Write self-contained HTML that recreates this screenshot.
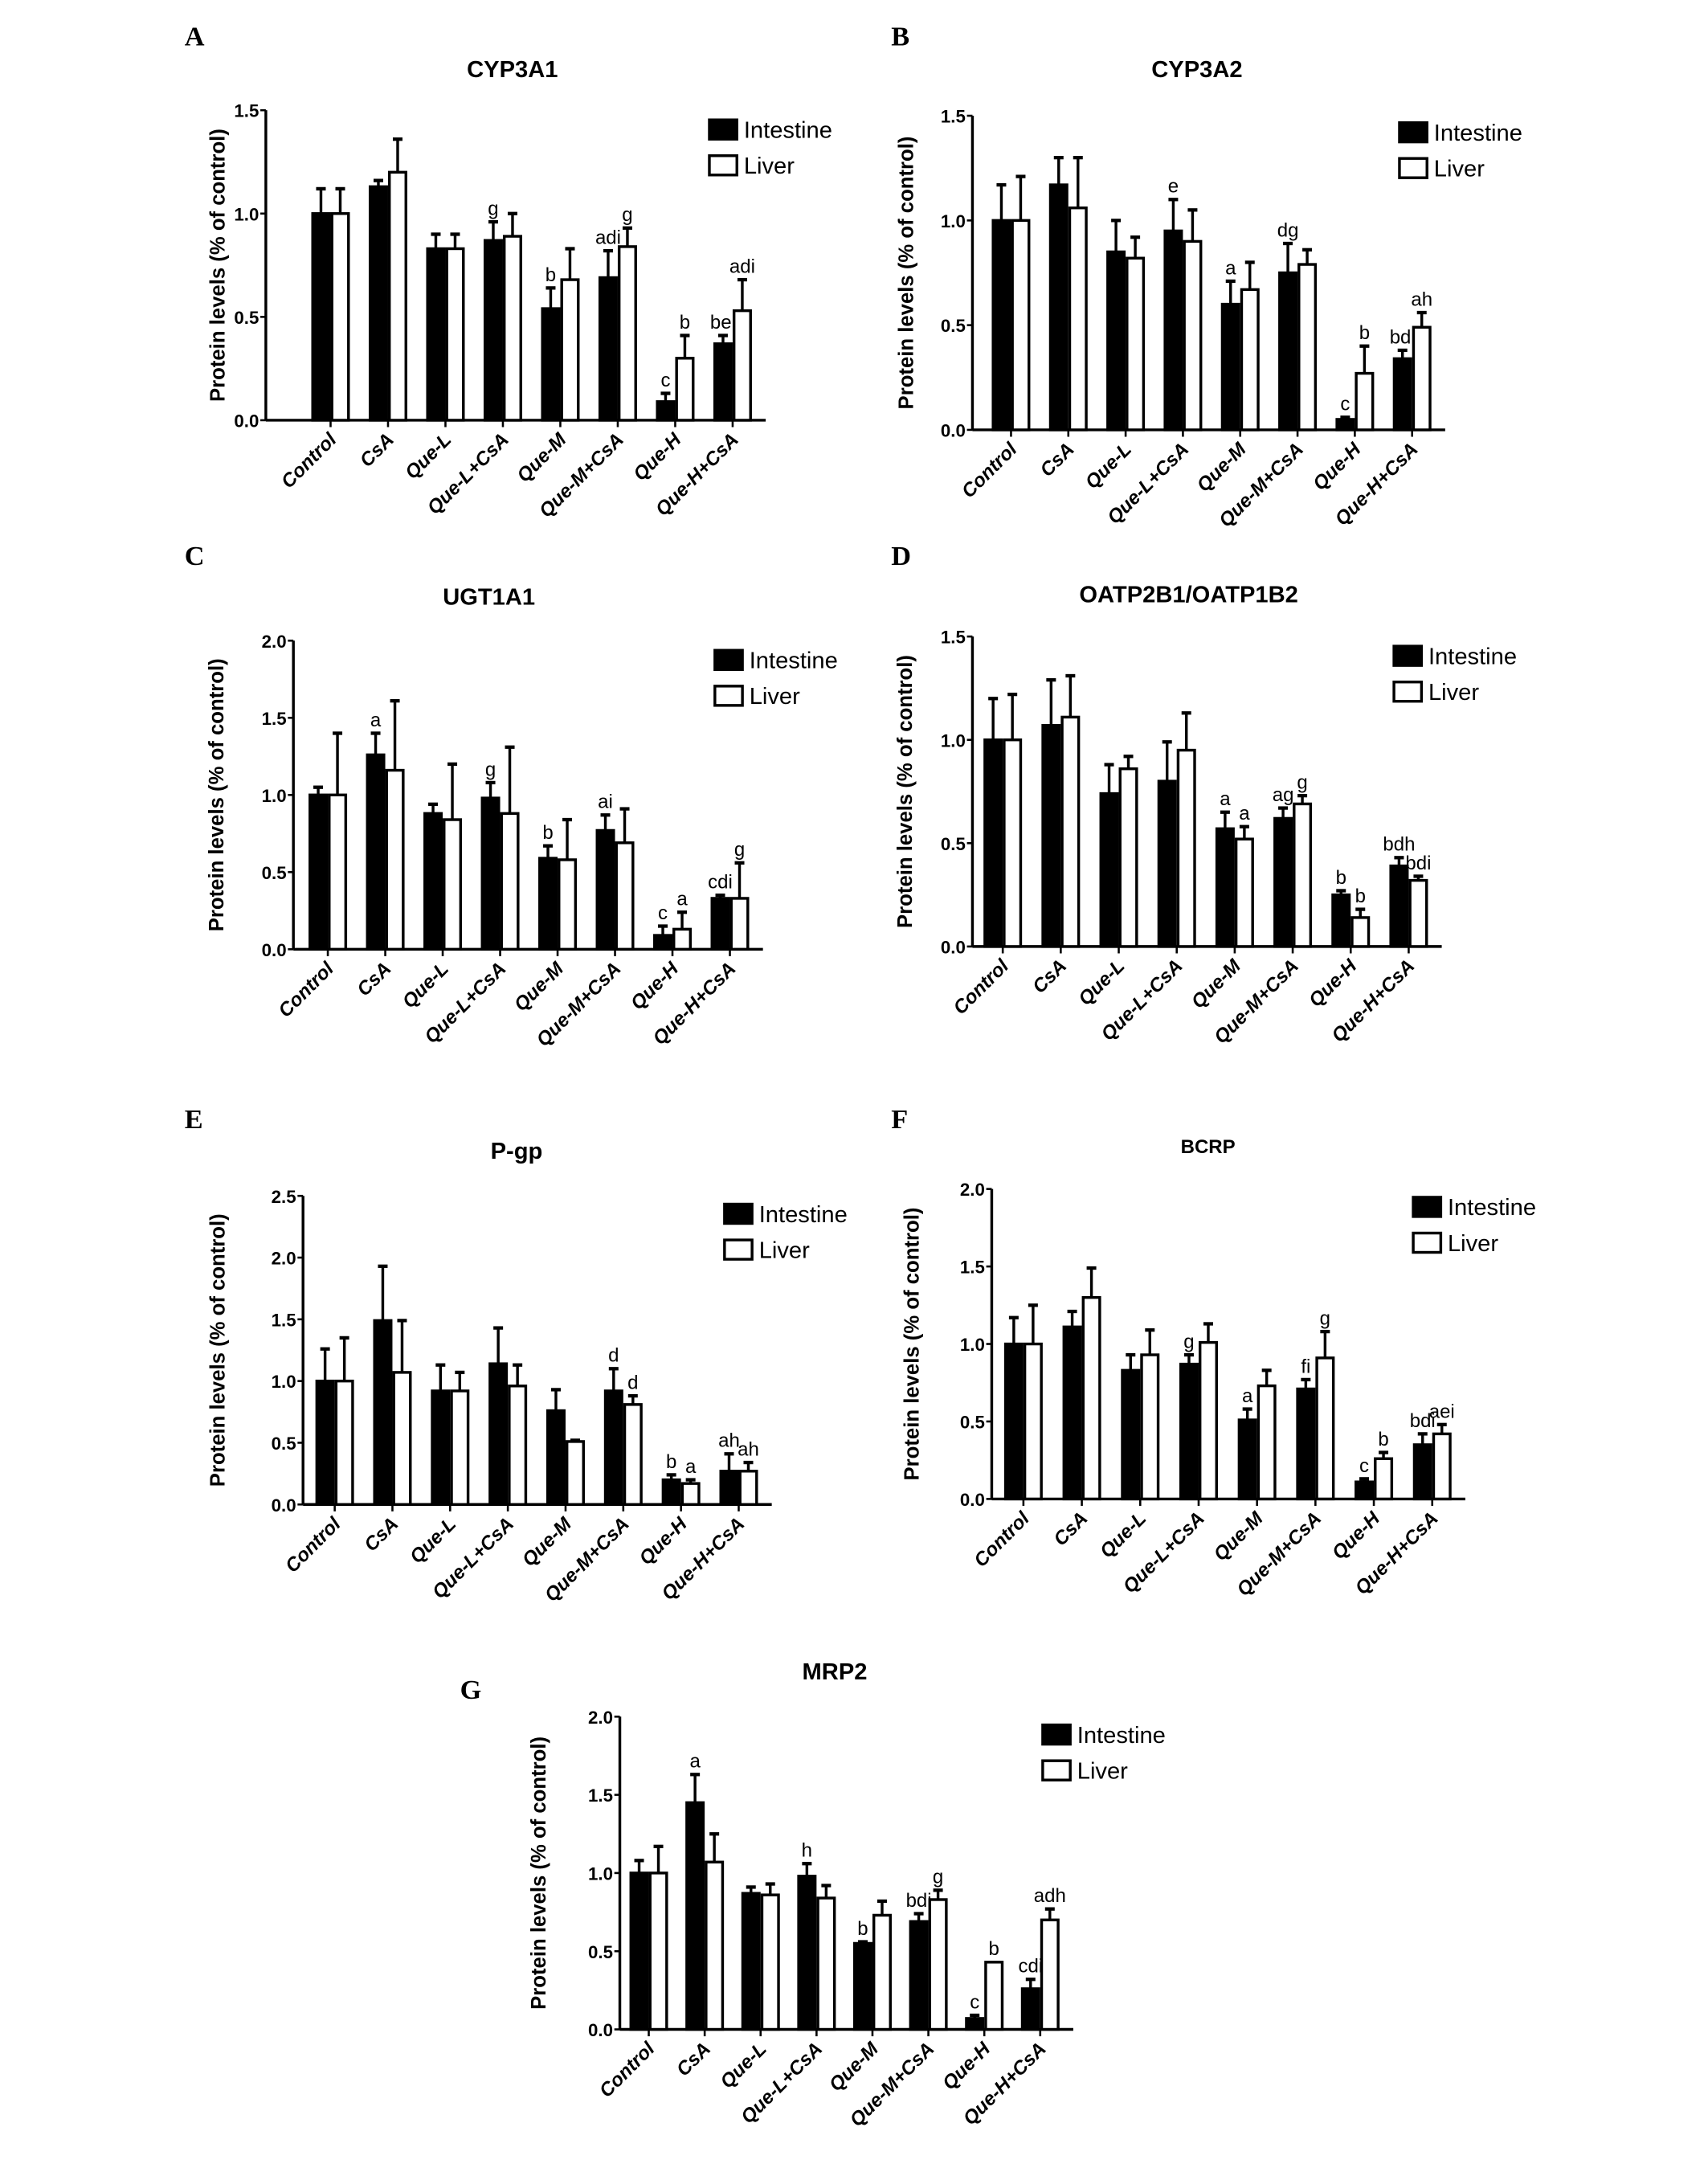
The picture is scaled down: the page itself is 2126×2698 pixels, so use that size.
<!DOCTYPE html>
<html><head><meta charset="utf-8"><style>
html,body{margin:0;padding:0;background:#fff;}
svg{display:block;font-family:"Liberation Sans",Arial,sans-serif;}
</style></head><body>
<svg id="fig" width="2126" height="2698" viewBox="0 0 1240 1573.6" xmlns="http://www.w3.org/2000/svg"></svg>
<script>
const categories=["Control","CsA","Que-L","Que-L+CsA","Que-M","Que-M+CsA","Que-H","Que-H+CsA"];
const yTicks15=[0,0.5,1.0,1.5];
const yTicks20=[0,0.5,1.0,1.5,2.0];
const yTicks25=[0,0.5,1.0,1.5,2.0,2.5];

const aInt=[1.0,1.13,0.83,0.87,0.54,0.69,0.09,0.37];
const aIntErr=[0.12,0.03,0.07,0.09,0.10,0.13,0.04,0.04];
const aLiv=[1.0,1.2,0.83,0.89,0.68,0.84,0.30,0.53];
const aLivErr=[0.12,0.16,0.07,0.11,0.15,0.09,0.11,0.15];
const aIntLab=["","","","g","b","adi","c","bei"];
const aLivLab=["","","","","","g","b","adi"];

const bInt=[1.0,1.17,0.85,0.95,0.60,0.75,0.05,0.34];
const bIntErr=[0.17,0.13,0.15,0.15,0.11,0.14,0.01,0.04];
const bLiv=[1.0,1.06,0.82,0.90,0.67,0.79,0.27,0.49];
const bLivErr=[0.21,0.24,0.10,0.15,0.13,0.07,0.13,0.07];
const bIntLab=["","","","e","a","dg","c","bdi"];
const bLivLab=["","","","","","","b","ah"];

const cInt=[1.0,1.26,0.88,0.98,0.59,0.77,0.09,0.33];
const cIntErr=[0.05,0.14,0.06,0.10,0.08,0.10,0.06,0.02];
const cLiv=[1.0,1.16,0.84,0.88,0.58,0.69,0.13,0.33];
const cLivErr=[0.40,0.45,0.36,0.43,0.26,0.22,0.11,0.23];
const cIntLab=["","a","","g","b","ai","c","cdi"];
const cLivLab=["","","","","","","a","g"];

const dInt=[1.0,1.07,0.74,0.80,0.57,0.62,0.25,0.39];
const dIntErr=[0.20,0.22,0.14,0.19,0.08,0.05,0.02,0.04];
const dLiv=[1.0,1.11,0.86,0.95,0.52,0.69,0.14,0.32];
const dLivErr=[0.22,0.20,0.06,0.18,0.06,0.04,0.04,0.02];
const dIntLab=["","","","","a","ag","b","bdh"];
const dLivLab=["","","","","a","g","b","bdi"];

const eInt=[1.0,1.49,0.92,1.14,0.76,0.92,0.20,0.27];
const eIntErr=[0.26,0.44,0.21,0.29,0.17,0.18,0.04,0.14];
const eLiv=[1.0,1.07,0.92,0.96,0.51,0.81,0.17,0.27];
const eLivErr=[0.35,0.42,0.15,0.17,0.01,0.07,0.03,0.07];
const eIntLab=["","","","","","d","b","ah"];
const eLivLab=["","","","","","d","a","ah"];

const fInt=[1.0,1.11,0.83,0.87,0.51,0.71,0.11,0.35];
const fIntErr=[0.17,0.10,0.10,0.06,0.07,0.06,0.02,0.07];
const fLiv=[1.0,1.30,0.93,1.01,0.73,0.91,0.26,0.42];
const fLivErr=[0.25,0.19,0.16,0.12,0.10,0.17,0.04,0.06];
const fIntLab=["","","","g","a","fi","c","bdi"];
const fLivLab=["","","","","","g","b","aei"];

const gInt=[1.0,1.45,0.87,0.98,0.55,0.69,0.07,0.26];
const gIntErr=[0.08,0.18,0.04,0.08,0.01,0.05,0.02,0.06];
const gLiv=[1.0,1.07,0.86,0.84,0.73,0.83,0.43,0.70];
const gLivErr=[0.17,0.18,0.07,0.08,0.09,0.06,0.0,0.07];
const gIntLab=["","a","","h","b","bdi","c","cdi"];
const gLivLab=["","","","","","g","b","adh"];

const NS="http://www.w3.org/2000/svg";
const svg=document.getElementById('fig');
function mk(tag,attrs,parent,text){const e=document.createElementNS(NS,tag);for(const k in attrs)e.setAttribute(k,attrs[k]);if(text!==undefined)e.textContent=text;(parent||svg).appendChild(e);return e;}

function panel(p){
  const g=mk('g',{});
  
  
  const ymax=p.ticks[p.ticks.length-1];
  const yS=v=>p.y0-(v/ymax)*(p.y0-p.yTop);
  const xC=i=>p.c0+i*p.step;
  const t1=mk('text',{x:p.letterX,y:p.letterY,'font-family':'Liberation Serif,serif','font-weight':'bold','font-size':20},g,p.id);
  
  
  const tt=mk('text',{x:p.titleX,y:p.titleY,'text-anchor':'middle','font-weight':'bold','font-size':p.titleSize||17},g,p.title);
  
  
  const yl=mk('text',{x:0,y:0,transform:`translate(${p.ylabX},${(p.y0+p.yTop)/2}) rotate(-90)`,'text-anchor':'middle','font-weight':'bold','font-size':15},g,'Protein levels (% of control)');
  
  
  const ya=mk('line',{x1:p.axisX,y1:p.yTop,x2:p.axisX,y2:p.y0,stroke:'#000','stroke-width':2},g);
  
  
  const xEnd=xC(7)+24;
  const xa=mk('line',{x1:p.axisX,y1:p.y0,x2:xEnd,y2:p.y0,stroke:'#000','stroke-width':2},g);
  
  
  p.ticks.forEach(v=>{
    const y=yS(v);
    mk('line',{x1:p.axisX-4,y1:y,x2:p.axisX,y2:y,stroke:'#000','stroke-width':1.5},g);
    const tl=mk('text',{x:p.axisX-5,y:y+5,'text-anchor':'end','font-weight':'bold','font-size':13},g,v.toFixed(1));
    
    
  });
  categories.forEach((c,i)=>{
    const x=xC(i);
    mk('line',{x1:x,y1:p.y0,x2:x,y2:p.y0+5,stroke:'#000','stroke-width':1.5},g);
    const cl=mk('text',{x:0,y:0,transform:`translate(${x+5},${p.y0+15}) rotate(-45)`,'text-anchor':'end','font-weight':'bold','font-style':'italic','font-size':14},g,c);
    
    
    const series=[[p.int,p.intErr,p.intLab,x-14,'#000','intestine'],[p.liv,p.livErr,p.livLab,x,'#fff','liver']];
    series.forEach(([vals,errs,labs,bx,fill,nm])=>{
      const v=vals[i],top=yS(v),ey=yS(v+errs[i]),cx=bx+7;
      if(errs[i]>0){
        mk('line',{x1:cx,y1:top,x2:cx,y2:ey,stroke:'#000','stroke-width':2},g);
        mk('line',{x1:cx-3.5,y1:ey,x2:cx+3.5,y2:ey,stroke:'#000','stroke-width':2.5},g);
      }
      const r=mk('rect',{x:bx+1,y:top,width:12,height:p.y0-top,fill:fill,stroke:'#000','stroke-width':2},g);
      
      
      if(labs[i]){
        const al=mk('text',{x:cx,y:ey-5,'text-anchor':'middle','font-size':14},g,labs[i]);
        
        
      }
    });
  });
  const lg=mk('g',{},g);
  
  
  const e1=mk('rect',{x:p.legX,y:p.legY-7,width:20,height:14,fill:'#000',stroke:'#000','stroke-width':2},lg);
  
  
  mk('text',{x:p.legX+25,y:p.legY+6,'font-size':17},lg,'Intestine');
  const e2=mk('rect',{x:p.legX,y:p.legY+19,width:20,height:14,fill:'#fff',stroke:'#000','stroke-width':2},lg);
  
  
  mk('text',{x:p.legX+25,y:p.legY+32,'font-size':17},lg,'Liver');
}

panel({id:'A',title:'CYP3A1',titleX:372,titleY:56,letterX:134,letterY:33,ylabX:163,axisX:193,y0:305,yTop:80,ticks:yTicks15,c0:240,step:41.7,legX:515,legY:94,int:aInt,intErr:aIntErr,liv:aLiv,livErr:aLivErr,intLab:aIntLab,livLab:aLivLab});
panel({id:'B',title:'CYP3A2',titleX:869,titleY:56,letterX:647,letterY:33,ylabX:663,axisX:706,y0:312,yTop:84,ticks:yTicks15,c0:734,step:41.6,legX:1016,legY:96,int:bInt,intErr:bIntErr,liv:bLiv,livErr:bLivErr,intLab:bIntLab,livLab:bLivLab});
panel({id:'C',title:'UGT1A1',titleX:355,titleY:439,letterX:134,letterY:410,ylabX:162,axisX:213,y0:689,yTop:465,ticks:yTicks20,c0:238,step:41.7,legX:519,legY:479,int:cInt,intErr:cIntErr,liv:cLiv,livErr:cLivErr,intLab:cIntLab,livLab:cLivLab});
panel({id:'D',title:'OATP2B1/OATP1B2',titleX:863,titleY:437,letterX:647,letterY:410,ylabX:662,axisX:706,y0:687,yTop:462,ticks:yTicks15,c0:728,step:42.1,legX:1012,legY:476,int:dInt,intErr:dIntErr,liv:dLiv,livErr:dLivErr,intLab:dIntLab,livLab:dLivLab});
panel({id:'E',title:'P-gp',titleX:375,titleY:841,letterX:134,letterY:819,ylabX:163,axisX:220,y0:1092,yTop:868,ticks:yTicks25,c0:243,step:41.9,legX:526,legY:881,int:eInt,intErr:eIntErr,liv:eLiv,livErr:eLivErr,intLab:eIntLab,livLab:eLivLab});
panel({id:'F',title:'BCRP',titleX:877,titleY:837,titleSize:14,letterX:647,letterY:819,ylabX:667,axisX:720,y0:1088,yTop:863,ticks:yTicks20,c0:743,step:42.4,legX:1026,legY:876,int:fInt,intErr:fIntErr,liv:fLiv,livErr:fLivErr,intLab:fIntLab,livLab:fLivLab});
panel({id:'G',title:'MRP2',titleX:606,titleY:1219,letterX:334,letterY:1233,ylabX:396,axisX:450,y0:1473,yTop:1246,ticks:yTicks20,c0:471,step:40.6,legX:757,legY:1259,int:gInt,intErr:gIntErr,liv:gLiv,livErr:gLivErr,intLab:gIntLab,livLab:gLivLab});
</script>
</body></html>
